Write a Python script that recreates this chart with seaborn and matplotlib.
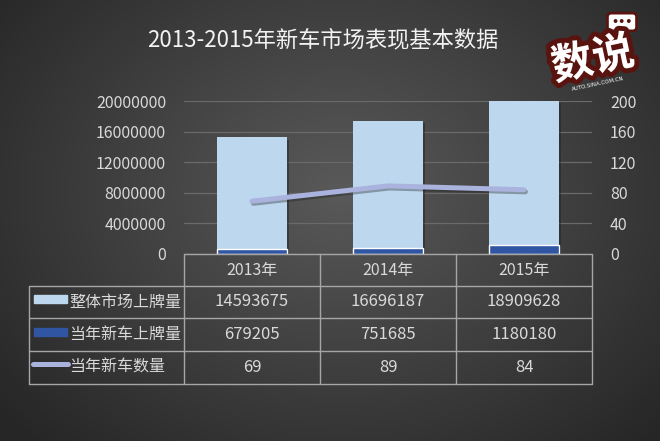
import numpy as np
import pandas as pd
import matplotlib
matplotlib.use('Agg')
import matplotlib.pyplot as plt
import matplotlib.patheffects as pe
from matplotlib.patches import Rectangle
from matplotlib.lines import Line2D
import seaborn as sns

# ── data ──────────────────────────────────────────────
years      = ['2013年', '2014年', '2015年']
market     = [14593675, 16696187, 18909628]   # 整体市场上牌量
new_plates = [679205, 751685, 1180180]        # 当年新车上牌量
new_models = [69, 89, 84]                     # 当年新车数量
row_names  = ['整体市场上牌量', '当年新车上牌量', '当年新车数量']
left_ticks  = [0, 4000000, 8000000, 12000000, 16000000, 20000000]
right_ticks = [0, 40, 80, 120, 160, 200]

LIGHT = '#BDD7EE'
DARK  = '#2F55A3'
LINE  = '#A9B3DD'
TXT   = '#D9D9D9'
GRID  = '#6A6A6A'
TBL   = '#A6A6A6'

sns.set_style('white')
plt.rcParams['font.family'] = ['Noto Sans CJK SC', 'DejaVu Sans']

W, H = 660, 441
fig = plt.figure(figsize=(6.6, 4.41), dpi=100)

# background radial gradient
bg = fig.add_axes([0, 0, 1, 1], zorder=-10)
yy, xx = np.mgrid[0:H, 0:W]
r = np.sqrt(((xx - 340) / 420.0) ** 2 + ((yy - 190) / 330.0) ** 2)
shade = np.clip(0.35 - 0.19 * r, 0.15, 0.35)
bg.imshow(np.dstack([shade] * 3), aspect='auto', extent=[0, 1, 0, 1])
bg.axis('off')

def fx(px):
    return px / W

def fy(py):
    return 1 - py / H

# main plot area
x0, x1, ytop, ybot = 184, 592, 101, 254
ax = fig.add_axes([fx(x0), fy(ybot), fx(x1 - x0), (ybot - ytop) / H])
ax.patch.set_alpha(0)

df = pd.DataFrame({'year': years,
                   'total': np.array(market) + np.array(new_plates),
                   'new': new_plates,
                   'models': new_models})

sns.barplot(data=df, x='year', y='total', color=LIGHT, width=0.51,
            saturation=1, ax=ax, zorder=2)
for p in ax.patches:
    p.set_path_effects([pe.SimplePatchShadow(offset=(2, -2), shadow_rgbFace='#1a1a1a', alpha=0.4), pe.Normal()])
    p.set_linewidth(0)
sns.barplot(data=df, x='year', y='new', color=DARK, width=0.51,
            saturation=1, ax=ax, zorder=3)

ax.set_ylim(0, 20000000)
ax.set_yticks(left_ticks)
ax.set_yticklabels([str(t) for t in left_ticks], color=TXT, fontsize=11.5)
ax.tick_params(axis='y', length=0, pad=13)
ax.set_xticks([])
ax.set_xlabel('')
ax.set_ylabel('')
ax.set_xlim(-0.5, 2.5)
ax.grid(axis='y', color=GRID, linewidth=0.9, zorder=0)
ax.set_axisbelow(True)
for s in ax.spines.values():
    s.set_visible(False)

ax2 = ax.twinx()
sns.lineplot(x=np.arange(len(years)), y=new_models, ax=ax2, color=LINE,
             linewidth=3.6, solid_capstyle='round', zorder=5,
             path_effects=[pe.SimpleLineShadow(offset=(1, -1.5), shadow_color='#1a1a1a', alpha=0.35), pe.Normal()])
ax2.set_ylim(0, 200)
ax2.set_yticks(right_ticks)
ax2.set_yticklabels([str(t) for t in right_ticks], color=TXT, fontsize=11.5)
ax2.tick_params(axis='y', length=0, pad=13)
ax2.set_ylabel('')
for s in ax2.spines.values():
    s.set_visible(False)

# data table
cols = [184, 320, 456, 592]
rows = [254, 286, 318, 351, 384]
tl = 29

def hline(xa, xb, y):
    fig.add_artist(Line2D([fx(xa), fx(xb)], [fy(y), fy(y)], color=TBL, linewidth=1))

def vline(x, ya, yb):
    fig.add_artist(Line2D([fx(x), fx(x)], [fy(ya), fy(yb)], color=TBL, linewidth=1))

hline(cols[0], cols[-1], rows[0])
for y in rows[1:]:
    hline(tl, cols[-1], y)
for x in cols:
    vline(x, rows[0], rows[-1])
vline(tl, rows[1], rows[-1])

for i, yr in enumerate(years):
    cx = (cols[i] + cols[i + 1]) / 2
    fig.text(fx(cx), fy((rows[0] + rows[1]) / 2), yr, ha='center', va='center',
             color=TXT, fontsize=11.5)
    vals = [market[i], new_plates[i], new_models[i]]
    for j, v in enumerate(vals):
        fig.text(fx(cx), fy((rows[j + 1] + rows[j + 2]) / 2), str(v),
                 ha='center', va='center', color=TXT, fontsize=12)

for j, name in enumerate(row_names):
    yc = (rows[j + 1] + rows[j + 2]) / 2
    fig.text(fx(69), fy(yc), name, ha='left', va='center', color=TXT, fontsize=11.5)

fig.add_artist(Rectangle((fx(34), fy(303)), fx(33), 8 / H, color=LIGHT))
fig.add_artist(Rectangle((fx(34), fy(336)), fx(33), 8 / H, color=DARK))
fig.add_artist(Line2D([fx(33), fx(68)], [fy(364), fy(364)], color=LINE,
                      linewidth=3.6, solid_capstyle='round'))

# title
fig.text(fx(323), fy(40), '2013-2015年新车市场表现基本数据', ha='center', va='center',
         color='#F2F2F2', fontsize=16)

# logo
bubble = fig.text(fx(622), fy(22), '•••', ha='center', va='center', color='#5A1410',
                  fontsize=8, fontweight='bold', family='DejaVu Sans',
                  bbox=dict(boxstyle='round,pad=0.35', fc='white', ec='#5A1410', lw=2))
logo = fig.text(fx(593), fy(60), '数说', ha='center', va='center', color='white',
                fontsize=30, fontweight='bold', rotation=12)
logo.set_path_effects([pe.withStroke(linewidth=7, foreground='#5A1410')])
fig.text(fx(598), fy(84), 'AUTO.SINA.COM.CN', ha='center', va='center', color='white',
         fontsize=4, rotation=12, family='DejaVu Sans')

fig.savefig('out.png', dpi=100)
